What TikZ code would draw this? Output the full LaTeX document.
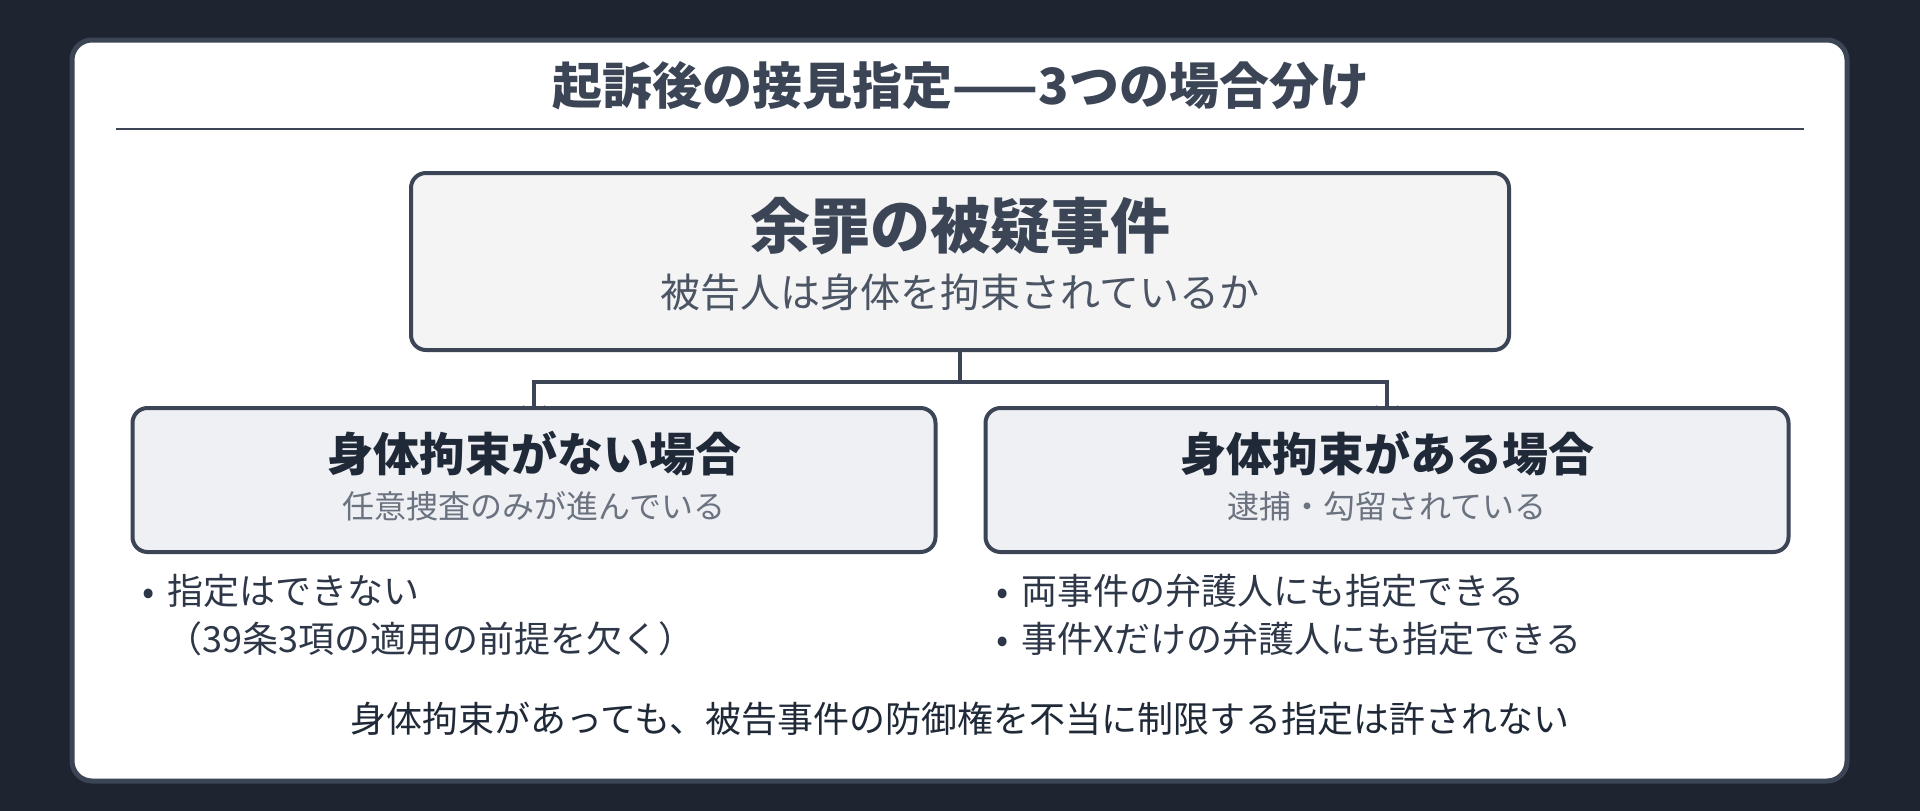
\documentclass[tikz,border=0pt]{standalone}
\usepackage{fontspec}
\setmainfont{Noto Sans CJK JP}
\usetikzlibrary{arrows.meta,backgrounds}
\definecolor{bgdark}{HTML}{1E2530}
\definecolor{edge}{HTML}{3B4556}
\definecolor{ink}{HTML}{2D3748}
\definecolor{inkdark}{HTML}{1F2937}
\definecolor{subgray}{HTML}{4B5563}
\definecolor{subgray2}{HTML}{6B7280}
\definecolor{topfill}{HTML}{F4F4F5}
\definecolor{lowfill}{HTML}{EFF0F4}
\tikzset{
  fs/.style={font=\fontsize{#1}{#1}\selectfont},
  boxnode/.style={draw=edge, line width=4pt, rounded corners=15pt, inner sep=0pt},
  txt/.style={inner sep=0pt, anchor=center},
  conn/.style={draw=edge, line width=3.5pt, -{Stealth[length=12pt,width=22pt]}, shorten >=-11.5pt},
}
\begin{document}
\begin{tikzpicture}[x=1pt,y=-1pt]
\useasboundingbox (0,0) rectangle (1920,811);

\node[txt, fs=50, text=edge] (title) at (961,86) {\bfseries 起訴後の接見指定——3つの場合分け};
\coordinate (rl) at (116,129);
\coordinate (rr) at (1804,129);
\draw[edge, line width=2.5pt] (rl) -- (rr);

\node[boxnode, fill=topfill, minimum width=1098pt, minimum height=177pt] (top) at (960,261.5) {};
\node[txt, fs=60, text=edge] (topmain) at (960,226) {\bfseries 余罪の被疑事件};
\node[txt, fs=40, text=subgray] (topsub) at (960,292) {被告人は身体を拘束されているか};

\node[boxnode, fill=lowfill, minimum width=803pt, minimum height=144pt] (left) at (534,480) {};
\node[boxnode, fill=lowfill, minimum width=803pt, minimum height=144pt] (right) at (1387,480) {};

\node[txt, fs=46, text=inkdark] (lmain) at (534,454) {\bfseries 身体拘束がない場合};
\node[txt, fs=32, text=subgray2] (lsub) at (534,506) {任意捜査のみが進んでいる};
\node[txt, fs=46, text=inkdark] (rmain) at (1387,454) {\bfseries 身体拘束がある場合};
\node[txt, fs=32, text=subgray2] (rsub) at (1387,506) {逮捕・勾留されている};

\node[txt, fs=36, text=ink, anchor=west] (lb1) at (142,591) {•\hspace{13pt}指定はできない};
\node[txt, fs=36, text=ink, anchor=west] (lb2) at (166,639) {（39条3項の適用の前提を欠く）};
\node[txt, fs=36, text=ink, anchor=west] (rb1) at (996,591) {•\hspace{13pt}両事件の弁護人にも指定できる};
\node[txt, fs=36, text=ink, anchor=west] (rb2) at (996,639) {•\hspace{13pt}事件Xだけの弁護人にも指定できる};

\node[txt, fs=36, text=inkdark] (bottom) at (960,719) {身体拘束があっても、被告事件の防御権を不当に制限する指定は許されない};

\begin{scope}[on background layer]
\fill[bgdark] (0,0) rectangle (1920,811);
\draw[edge, line width=5pt, fill=white, rounded corners=20pt] (72,40) rectangle (1847,781);
\draw[conn] (top.south) -- ++(0,30) -| (left.north);
\draw[conn] (top.south) -- ++(0,30) -| (right.north);
\end{scope}
\end{tikzpicture}
\end{document}
